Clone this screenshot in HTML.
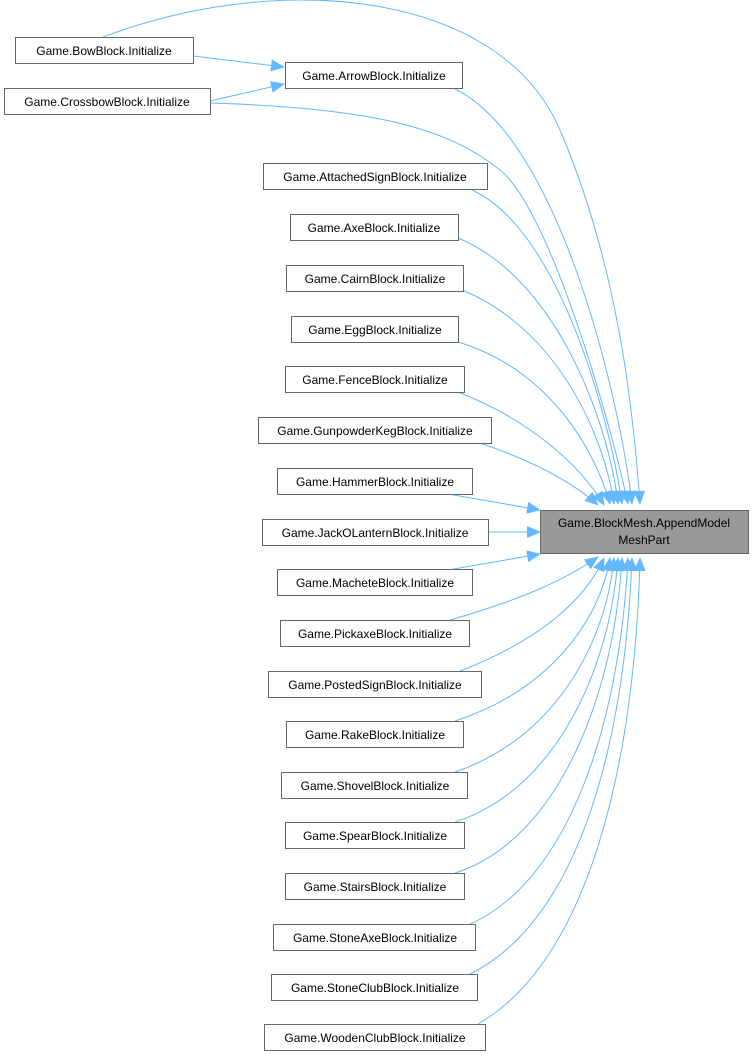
<!DOCTYPE html>
<html><head><meta charset="utf-8"><style>
body{margin:0;background:#fff;width:754px;height:1057px;overflow:hidden}
svg{position:absolute;left:0;top:0}
text{font-family:"Liberation Sans",sans-serif;font-size:12px;fill:#000}
.n{fill:#fff;stroke:#666;stroke-width:1}
.e{fill:none;stroke:#63b8ff;stroke-width:1}
</style></head><body>
<svg width="754" height="1057" viewBox="0 0 754 1057">
<defs><marker id="a" markerWidth="14" markerHeight="12" refX="13" refY="6" orient="auto" markerUnits="userSpaceOnUse"><path d="M0,0 L14,6 L0,12 Z" fill="#63b8ff"/></marker></defs>
<g class="e" marker-end="url(#a)">
<path d="M193,56 L284,67"/>
<path d="M210,101 L284,84"/>
<path d="M103,37 C280,-30 500,-10 560,130 S634,420 640,504"/>
<path d="M455,89 C560,140 620,400 632,504"/>
<path d="M210,103 C380,108 450,130 500,170 S610,420 628,504"/>
<path d="M472,190 C560,230 610,420 622,504"/>
<path d="M458,238 C560,280 610,430 618,504"/>
<path d="M462,290 C560,330 605,440 614,504"/>
<path d="M458,342 C550,370 595,450 610,504"/>
<path d="M458,392 C530,420 580,465 604,505"/>
<path d="M480,443 C530,460 570,480 598,505"/>
<path d="M448,494 L540,510"/>
<path d="M488,532 L540,532"/>
<path d="M448,570 L540,554"/>
<path d="M450,620 C520,600 565,580 598,557"/>
<path d="M460,671 C540,640 585,600 604,558"/>
<path d="M455,721 C550,690 600,620 610,558"/>
<path d="M455,772 C550,740 605,650 614,558"/>
<path d="M455,822 C555,790 610,670 618,558"/>
<path d="M455,873 C560,840 615,690 622,558"/>
<path d="M470,924 C570,880 620,720 628,558"/>
<path d="M470,974 C580,920 625,740 632,558"/>
<path d="M478,1024 C590,960 635,760 640,558"/>
</g>
<rect x="540.5" y="510.5" width="208" height="43" fill="#999" stroke="#666"/>
<text x="644" y="527" text-anchor="middle">Game.BlockMesh.AppendModel</text>
<text x="644" y="544" text-anchor="middle">MeshPart</text>
<g>
<rect class="n" x="15.5" y="37.5" width="178" height="26"/><text x="104" y="55" text-anchor="middle">Game.BowBlock.Initialize</text>
<rect class="n" x="285.5" y="62.5" width="177" height="26"/><text x="374" y="80" text-anchor="middle">Game.ArrowBlock.Initialize</text>
<rect class="n" x="4.5" y="88.5" width="206" height="26"/><text x="107" y="106" text-anchor="middle">Game.CrossbowBlock.Initialize</text>
<rect class="n" x="263.5" y="163.5" width="224" height="26"/><text x="375" y="181" text-anchor="middle">Game.AttachedSignBlock.Initialize</text>
<rect class="n" x="290.5" y="214.5" width="168" height="26"/><text x="374" y="232" text-anchor="middle">Game.AxeBlock.Initialize</text>
<rect class="n" x="286.5" y="265.5" width="177" height="26"/><text x="375" y="283" text-anchor="middle">Game.CairnBlock.Initialize</text>
<rect class="n" x="291.5" y="316.5" width="167" height="26"/><text x="375" y="334" text-anchor="middle">Game.EggBlock.Initialize</text>
<rect class="n" x="285.5" y="366.5" width="179" height="26"/><text x="375" y="384" text-anchor="middle">Game.FenceBlock.Initialize</text>
<rect class="n" x="258.5" y="417.5" width="233" height="26"/><text x="375" y="435" text-anchor="middle">Game.GunpowderKegBlock.Initialize</text>
<rect class="n" x="277.5" y="468.5" width="195" height="26"/><text x="375" y="486" text-anchor="middle">Game.HammerBlock.Initialize</text>
<rect class="n" x="262.5" y="519.5" width="226" height="26"/><text x="375" y="537" text-anchor="middle">Game.JackOLanternBlock.Initialize</text>
<rect class="n" x="277.5" y="569.5" width="195" height="26"/><text x="375" y="587" text-anchor="middle">Game.MacheteBlock.Initialize</text>
<rect class="n" x="280.5" y="620.5" width="189" height="26"/><text x="375" y="638" text-anchor="middle">Game.PickaxeBlock.Initialize</text>
<rect class="n" x="268.5" y="671.5" width="213" height="26"/><text x="375" y="689" text-anchor="middle">Game.PostedSignBlock.Initialize</text>
<rect class="n" x="286.5" y="721.5" width="177" height="26"/><text x="375" y="739" text-anchor="middle">Game.RakeBlock.Initialize</text>
<rect class="n" x="281.5" y="772.5" width="186" height="26"/><text x="375" y="790" text-anchor="middle">Game.ShovelBlock.Initialize</text>
<rect class="n" x="285.5" y="822.5" width="179" height="26"/><text x="375" y="840" text-anchor="middle">Game.SpearBlock.Initialize</text>
<rect class="n" x="285.5" y="873.5" width="179" height="26"/><text x="375" y="891" text-anchor="middle">Game.StairsBlock.Initialize</text>
<rect class="n" x="273.5" y="924.5" width="202" height="26"/><text x="375" y="942" text-anchor="middle">Game.StoneAxeBlock.Initialize</text>
<rect class="n" x="271.5" y="974.5" width="206" height="26"/><text x="375" y="992" text-anchor="middle">Game.StoneClubBlock.Initialize</text>
<rect class="n" x="264.5" y="1024.5" width="221" height="26"/><text x="375" y="1042" text-anchor="middle">Game.WoodenClubBlock.Initialize</text>
</g>
</svg>
</body></html>
